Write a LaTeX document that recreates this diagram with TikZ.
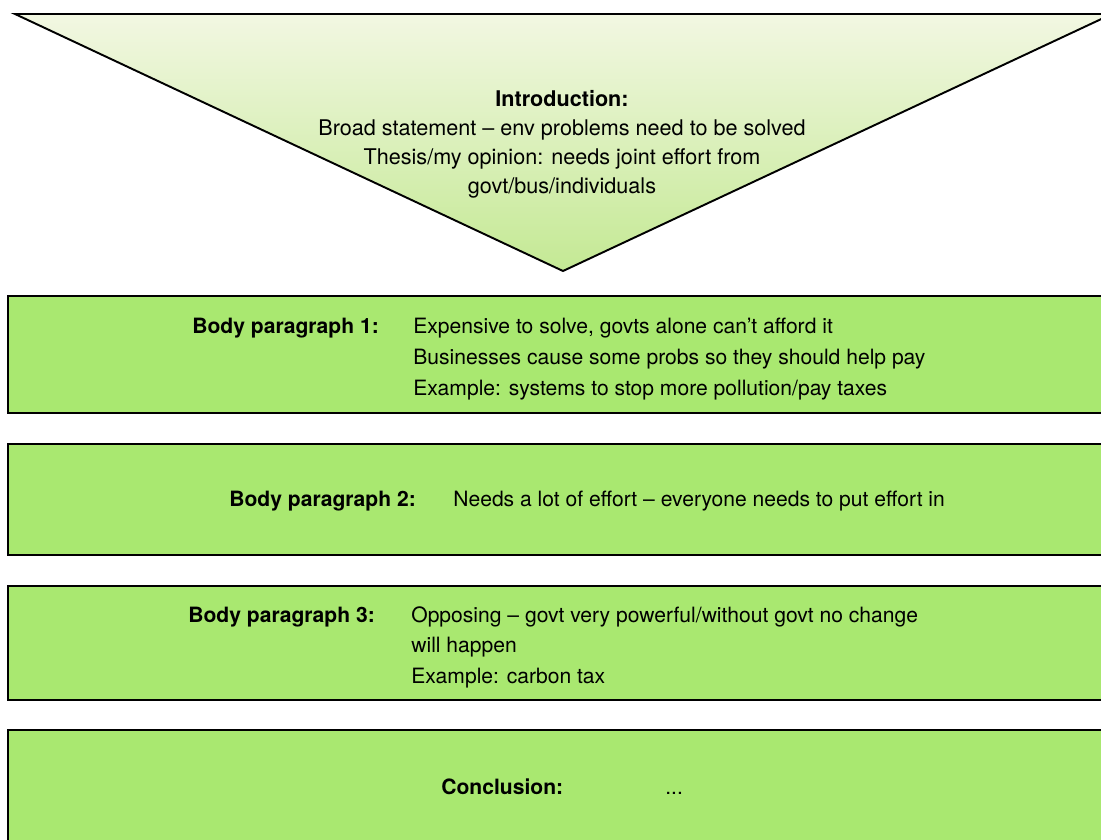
\documentclass[tikz,border=0pt]{standalone}
\usepackage{fontspec}
\setmainfont{TeX Gyre Heros}
\definecolor{paragreen}{HTML}{A9E870}
\definecolor{intropale}{HTML}{F2F7E2}
\definecolor{introgreen}{HTML}{C4E994}

\begin{document}
\begin{tikzpicture}[x=0.02cm, y=-0.02cm,
  every node/.style={font=\fontsize{12}{17.5}\selectfont, inner sep=0pt},
  parabox/.style={draw, line width=1.1pt, fill=paragreen},
  heading/.style={font=\fontsize{12}{17.5}\selectfont\bfseries, anchor=base west},
  bodytext/.style={align=left, anchor=base west}]
  \useasboundingbox (0,0) rectangle (1101,839);
  \clip (0,0) rectangle (1101,839);

  % introduction funnel
  \shadedraw[top color=intropale, bottom color=introgreen, line width=1.1pt]
    (15,14) -- (1112,14) -- (563,271) -- cycle;
  \node[align=center, anchor=base, font=\fontsize{12.3}{16.5}\selectfont] (intro) at (562,193)
    {\textbf{Introduction:}\\
     Broad statement -- env problems need to be solved\\
     Thesis/my opinion: needs joint effort from\\
     govt/bus/individuals};

  % body paragraphs
  \draw[parabox] (8,296) rectangle (1115,413);
  \node[heading] (head1) at (192,333) {Body paragraph 1:};
  \node[bodytext] (text1) at (413,395)
    {Expensive to solve, govts alone can’t afford it\\
     Businesses cause some probs so they should help pay\\
     Example: systems to stop more pollution/pay taxes};

  \draw[parabox] (8,444) rectangle (1115,555);
  \node[heading] (head2) at (229,506) {Body paragraph 2:};
  \node[bodytext] (text2) at (453,506)
    {Needs a lot of effort -- everyone needs to put effort in};

  \draw[parabox] (8,586) rectangle (1115,700);
  \node[heading] (head3) at (188,622) {Body paragraph 3:};
  \node[bodytext, font=\fontsize{12}{17.3}\selectfont] (text3) at (411,683)
    {Opposing -- govt very powerful/without govt no change\\
     will happen\\
     Example: carbon tax};

  % conclusion
  \draw[parabox] (8,730) rectangle (1115,850);
  \node[heading] (head4) at (441,794) {Conclusion:};
  \node[bodytext] (text4) at (665,794) {...};
\end{tikzpicture}
\end{document}
